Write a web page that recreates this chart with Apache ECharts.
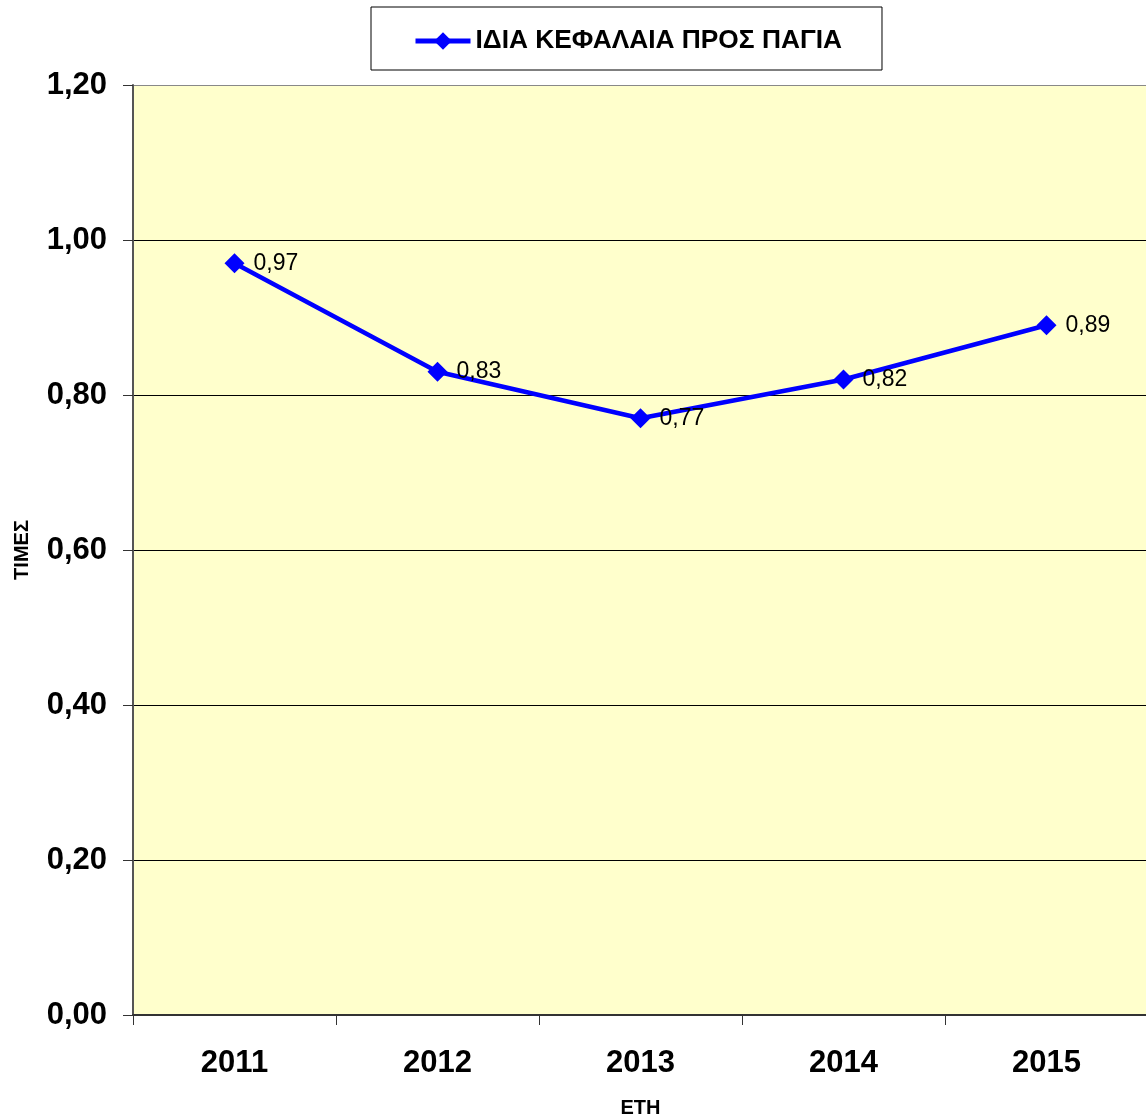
<!DOCTYPE html>
<html>
<head>
<meta charset="utf-8">
<script src="https://cdn.jsdelivr.net/npm/echarts@6/dist/echarts.min.js"></script>
<style>
  html, body { margin: 0; padding: 0; background: #fff; }
  #chart { width: 1146px; height: 1117px; }
</style>
</head>
<body>
<div id="chart"></div>
<script>
// data
const years = ['2011', '2012', '2013', '2014', '2015']
const ratio = [0.97, 0.83, 0.77, 0.82, 0.89]
const seriesName = 'ΙΔΙΑ ΚΕΦΑΛΑΙΑ ΠΡΟΣ ΠΑΓΙΑ'
const yTicks = [0, 1.2, 0.2]   // min, max, step

const font = '"Liberation Sans", Arial, sans-serif'
const comma = v => v.toFixed(2).replace('.', ',')

const chart = echarts.init(document.getElementById('chart'))

chart.setOption({
  animation: false,
  textStyle: { fontFamily: font },
  grid: {
    left: 133,
    right: -2,
    top: 85,
    bottom: 102,
    outerBoundsMode: 'none',
    show: true,
    backgroundColor: '#FFFFCC',
    borderWidth: 0
  },
  legend: {
    left: 371,
    top: 7,
    padding: [21, 40, 16, 42],
    borderColor: '#000',
    borderWidth: 1,
    itemWidth: 55,
    itemHeight: 22,
    itemGap: 11,
    lineStyle: { width: 5 },
    textStyle: { fontFamily: font, fontSize: 26.3, fontWeight: 'bold', color: '#000' },
    data: [seriesName]
  },
  xAxis: {
    type: 'category',
    data: years,
    boundaryGap: true,
    name: 'ΕΤΗ',
    nameLocation: 'middle',
    nameGap: 83,
    nameTextStyle: { fontFamily: font, fontSize: 20, fontWeight: 'bold', color: '#000' },
    axisLine: { lineStyle: { color: '#333', width: 2 } },
    axisTick: { show: true, inside: false, length: 10, alignWithLabel: false, lineStyle: { color: '#333', width: 1 } },
    axisLabel: { fontFamily: font, fontSize: 31, fontWeight: 'bold', color: '#000', margin: 33 }
  },
  yAxis: {
    type: 'value',
    min: yTicks[0],
    max: yTicks[1],
    interval: yTicks[2],
    name: 'ΤΙΜΕΣ',
    nameLocation: 'middle',
    nameGap: 101,
    nameRotate: 90,
    nameTextStyle: { fontFamily: font, fontSize: 20, fontWeight: 'bold', color: '#000' },
    axisLine: { show: true, lineStyle: { color: '#555', width: 2 } },
    axisTick: { show: true, inside: false, length: 10, lineStyle: { color: '#333', width: 1 } },
    axisLabel: {
      fontFamily: font, fontSize: 31, fontWeight: 'bold', color: '#000', margin: 26,
      formatter: v => comma(v)
    },
    splitLine: {
      show: true,
      lineStyle: { color: ['#000', '#000', '#000', '#000', '#000', '#000', '#888'], width: 1 }
    }
  },
  series: [{
    name: seriesName,
    type: 'line',
    data: ratio,
    symbol: 'diamond',
    symbolSize: 20,
    color: '#0000FF',
    lineStyle: { color: '#0000FF', width: 4.5 },
    itemStyle: { color: '#0000FF' },
    label: {
      show: true,
      position: 'right',
      distance: 9,
      fontFamily: font,
      fontSize: 23,
      color: '#000',
      formatter: p => comma(p.value)
    }
  }]
})
</script>
</body>
</html>
